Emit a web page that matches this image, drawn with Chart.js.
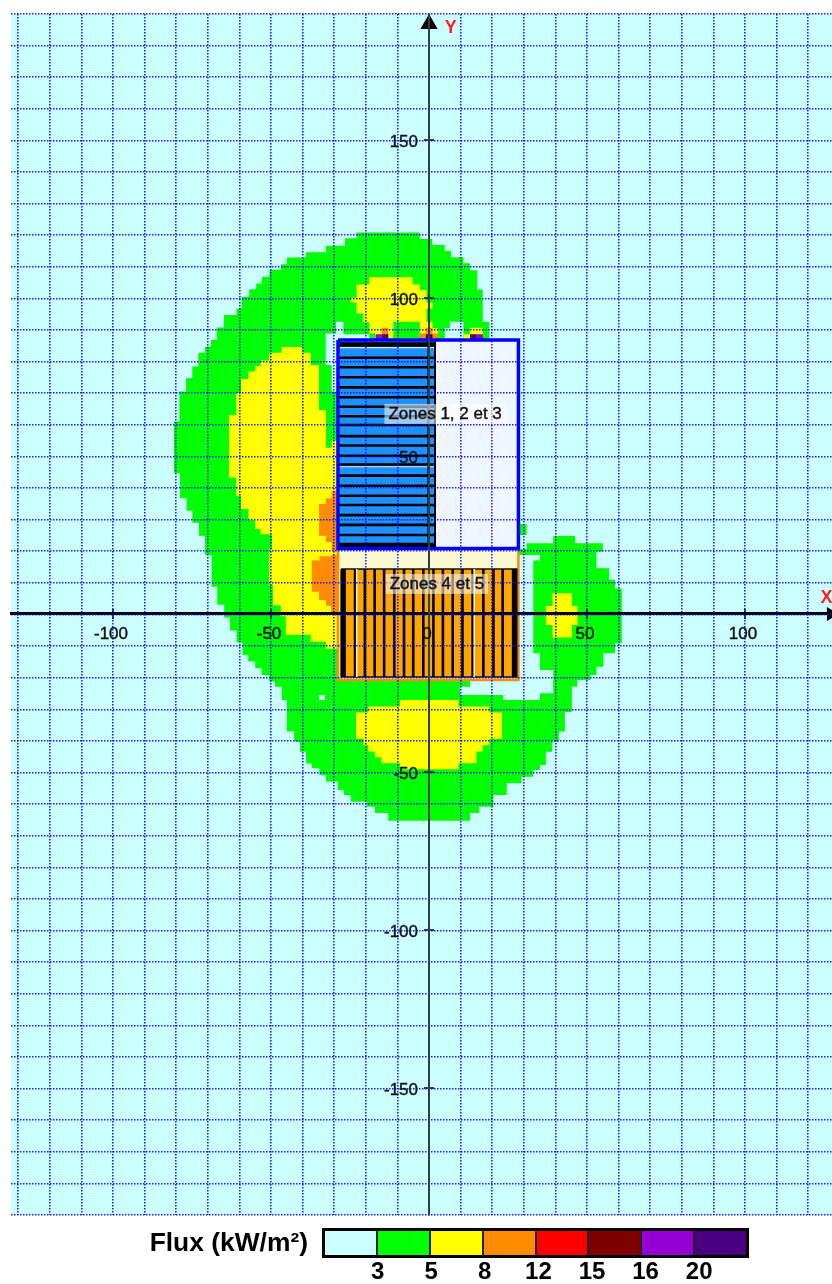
<!DOCTYPE html>
<html>
<head>
<meta charset="utf-8">
<script src="https://cdn.jsdelivr.net/npm/chart.js@4"></script>
<style>
    body { margin: 0; background: #fff; font-family: "Liberation Sans", Arial, sans-serif; }
    #wrap { position: relative; width: 832px; height: 1284px; overflow: hidden; }
    #fluxTitle { position: absolute; left: 60px; width: 248px; top: 1228px; text-align: right; font-size: 26.4px; font-weight: bold; line-height: 28px; white-space: nowrap; }
    #fluxBar { position: absolute; left: 322px; top: 1228px; width: 427px; height: 30px; box-sizing: border-box; border: 3px solid #000; display: flex; }
    #fluxBar div { flex: 1; border-right: 2px solid #222; }
    #fluxBar div:last-child { border-right: none; }
    .fluxTick { position: absolute; top: 1258px; width: 40px; text-align: center; font-size: 24px; font-weight: bold; line-height: 26px; }
</style>
</head>
<body>
<div id="wrap">
    <canvas id="fluxChart" width="832" height="1284"></canvas>
    <div id="fluxTitle">Flux (kW/m²)</div>
    <div id="fluxBar"></div>
</div>
<script>
// Legend
const fluxLevels = ['3', '5', '8', '12', '15', '16', '20'];
const fluxColors = ['#ccffff', '#00ff00', '#ffff00', '#ff8c00', '#ff0000', '#800000', '#9400d3', '#4b0082'];

// Axis limits and ticks (metres)
const xLimits = [-132.28, 127.53];
const yLimits = [-190.19, 189.87];
const xMajorTicks = [-100, -50, 0, 50, 100];
const yMajorTicks = [-150, -100, -50, 50, 100, 150];

// Flux contours as [x, y]
const greenContour = [[-22.9, 120.7], [-26.6, 118.9], [-32.7, 116.5], [-39, 114.5], [-45, 112.8], [-46.8, 110.7], [-50.5, 108.9], [-52.9, 106.7],
    [-54.7, 104.6], [-56.9, 102.8], [-59.3, 100.4], [-60.9, 96.7], [-64.9, 94.6], [-67.2, 90.7], [-69, 86.7], [-70.9, 84.6], [-73, 82.7], [-74.9, 78.3],
    [-76.9, 74.6], [-79, 70.4], [-80.7, 60.9], [-78.8, 44.5], [-76.7, 36.6], [-74.9, 32.7], [-72.8, 28.9], [-70.9, 24.8], [-68.8, 18.7], [-67, 8.6],
    [-64.8, 2.9], [-63, -1.1], [-60.9, -5.2], [-59, -9], [-57.2, -13], [-55, -15], [-53, -17.2], [-50.6, -19.3], [-48.7, -21.4], [-46.6, -23], [-45, -27.2],
    [-42.7, -37.2], [-40.8, -40.4], [-38.9, -43.6], [-37.1, -47.3], [-34.7, -48.8], [-32.6, -51], [-28.9, -53], [-26.9, -55.7], [-24.8, -57.3],
    [-19.7, -59.4], [-17.1, -61], [-12.9, -63], [13, -65.4], [15.9, -63], [20.4, -61], [24.6, -57.3], [29.3, -53.6], [33, -51.5], [35.1, -49.4], [37, -47.8],
    [39, -43.6], [41.1, -40.4], [43, -37.2], [45.2, -31], [46.9, -23], [51, -20.9], [53, -19.3], [55.2, -16.7], [58.9, -12.4], [61, -9.3], [61, 8.1],
    [58.9, 8.1], [58.9, 10.8], [57, 10.8], [57, 14.5], [53, 14.5], [53, 19.7], [55, 19.7], [55, 22.4], [46.2, 22.4], [46.2, 24.7], [39.3, 24.7], [39.3, 22.4],
    [30.9, 22.4], [30.9, 20.6], [28.3, 20.6], [19.1, 20.6], [19.1, 92.5], [17, 92.5], [17, 102.7], [15.3, 102.7], [15.3, 108.8], [13, 108.8], [13, 111],
    [10.9, 111], [10.9, 112.9], [7, 112.9], [7, 114.9], [5, 114.9], [5, 116.8], [1, 116.8], [1, 118.7], [-2.9, 118.7], [-2.9, 120.6]];
const greenPatch = [[28.3, 28.5], [30.9, 28.5], [30.9, 25], [28.3, 25]];

// Pockets below the 3 kW/m² level, inside the green area
const rightPocket = [[25, 18.7], [35.1, 18.7], [35.1, 16.9], [33, 16.9], [33, -12.4], [35.1, -12.4], [35.1, -17.7], [39.3, -17.7], [39.3, -25.1], [35.1, -25.1],
    [35.1, -27.2], [23.5, -27.2], [23.5, -25.6], [9.8, -25.6], [9.8, -23], [13, -23], [13, -21], [25, -21]];
const leftPocket = [[-32.7, 88.8], [-29.4, 88.8], [-29.4, 92.5], [-27.1, 92.5], [-27.1, 88.5], [-18.9, 88.5], [-18.9, 86.7], [-28.8, 86.7], [-28.8, 70.4],
    [-30.8, 70.4], [-30.8, 78.8], [-32.7, 78.8]];
const topPocket = [[5, 86.7], [5, 90.4], [6.6, 90.4], [6.6, 92.5], [10.9, 92.5], [10.9, 86.7]];
const smallPocket = [[-34.8, -25.6], [-32.9, -25.6], [-32.9, -27.2], [-34.8, -27.2]];

const yellowLeft = [[-39.9, 84.5], [-46.6, 84.5], [-46.6, 82.7], [-50.6, 82.7], [-50.6, 80.2], [-53.3, 80.2], [-53.3, 78.5], [-55, 78.5], [-55, 76.7], [-57.1, 76.7],
    [-57.1, 74.4], [-59.5, 74.4], [-59.5, 69.9], [-61, 69.9], [-61, 62.9], [-63.3, 62.9], [-63.3, 43.2], [-61, 43.2], [-61, 37.4], [-59.5, 37.4], [-59.5, 33.2],
    [-57.1, 33.2], [-57.1, 29.7], [-55, 29.7], [-55, 26.9], [-53.3, 26.9], [-53.3, 25.2], [-49.7, 25.2], [-49.7, 20.6], [-50.6, 20.6], [-50.6, 9.2], [-49.4, 9.2],
    [-49.4, 2.8], [-46.9, 2.8], [-46.9, -0.7], [-45.3, -0.7], [-45.3, -6.6], [-37.4, -6.6], [-37.4, -8.8], [-32.6, -8.8], [-32.6, -11], [-28.8, -11], [-28.8, 54.9],
    [-30.8, 54.9], [-30.8, 52.6], [-32.6, 52.6], [-32.6, 64.5], [-34.8, 64.5], [-34.8, 78.7], [-37.4, 78.7], [-37.4, 82.7], [-39.9, 82.7]];
const yellowTop = [[-18.9, 106.6], [-5.2, 106.6], [-5.2, 104.3], [-2.9, 104.3], [-2.9, 102.5], [-0.8, 102.5], [-0.8, 98.6], [1.1, 98.6], [1.1, 96.7], [-0.8, 96.7],
    [-0.8, 92.5], [1.1, 92.5], [1.1, 90.4], [2.9, 90.4], [2.9, 86.7], [-2.9, 86.7], [-2.9, 92.5], [-11.3, 92.5], [-11.3, 86.7], [-17.1, 86.7], [-17.1, 88.8],
    [-18.9, 88.8], [-18.9, 92.3], [-20.8, 92.3], [-20.8, 95.1], [-22.9, 95.1], [-22.9, 98.6], [-24.8, 98.6], [-24.8, 100.1], [-22.9, 100.1], [-22.9, 104.3], [-18.9, 104.3]];
const yellowTopRight = [[13, 90.6], [17, 90.6], [17, 86.7], [10.9, 86.7], [10.9, 88.5], [13, 88.5]];
const yellowLobe = [[39.1, 6.6], [45.2, 6.6], [45.2, 2.5], [47, 2.5], [47, -3.5], [45.2, -3.5], [45.2, -7.4], [39.1, -7.4], [39.1, -3.5], [37, -3.5], [37, 2.5], [39.1, 2.5]];
const yellowBottom = [[-9.2, -27.2], [9.3, -27.2], [9.3, -29.3], [19.1, -29.3], [19.1, -31.2], [23.1, -31.2], [23.1, -39.5], [19.1, -39.5], [19.1, -41.5], [17, -41.5],
    [17, -43.5], [15, -43.5], [15, -47.2], [9.3, -47.2], [9.3, -49.1], [-9.2, -49.1], [-9.2, -47.2], [-15, -47.2], [-15, -45.3], [-17.1, -45.3], [-17.1, -43.5],
    [-19.2, -43.5], [-19.2, -41.5], [-20.8, -41.5], [-20.8, -39.5], [-23.1, -39.5], [-23.1, -31.2], [-19.2, -31.2], [-19.2, -29.3], [-9.2, -29.3]];

const orangeWest = [[-30.8, 39], [-28.8, 39], [-28.8, 20], [-30.8, 20], [-30.8, 22.8], [-32.6, 22.8], [-32.6, 24.8], [-34.8, 24.8], [-34.8, 34.8], [-32.6, 34.8], [-32.6, 36.6], [-30.8, 36.6]];
const orangeSouthWest = [[-31, 18.7], [-28.8, 18.7], [-28.8, 0.6], [-31, 0.6], [-31, 2.6], [-32.6, 2.6], [-32.6, 4.4], [-34.8, 4.4], [-34.8, 7], [-37.1, 7], [-37.1, 16.9], [-34.7, 16.9], [-34.7, 18.3], [-31, 18.3]];
const orangeTopLeft = [[-15, 90.6], [-12.9, 90.6], [-12.9, 86.7], [-15, 86.7]];
const orangeTopMid = [[-1, 90.6], [1.1, 90.6], [1.1, 88.8], [2.9, 88.8], [2.9, 86.7], [-2.9, 86.7], [-2.9, 88.8], [-1, 88.8]];
const purpleTopLeft = [[-16.9, 88.5], [-15, 88.5], [-15, 86.7], [-16.9, 86.7]];
const purpleTopRight = [[15.1, 88.5], [17, 88.5], [17, 86.7], [15.1, 86.7]];
const indigoTopLeft = [[-15, 88.5], [-12.9, 88.5], [-12.9, 86.7], [-15, 86.7]];
const indigoTopMid = [[-1, 88.5], [1.1, 88.5], [1.1, 86.7], [-1, 86.7]];
const indigoTopRight = [[13, 88.5], [15.1, 88.5], [15.1, 86.7], [13, 86.7]];

// Building
const buildingBox = [[-28.8, 86.7], [28.3, 86.7], [28.3, 20.7], [-28.8, 20.7]];
const lowerBox = [[-28.8, 20.7], [28.3, 20.7], [28.3, -20.9], [-28.8, -20.9]];
const blueBlock = [[-28.4, 86.3], [1.9, 86.3], [1.9, 21.1], [-28.4, 21.1]];
const orangeBlock = [[-27.8, 14.2], [27.8, 14.2], [27.8, -19.9], [-27.8, -19.9]];
const blueSlatsY = [81.1, 78.1, 74.9, 71.7, 68.6, 65.6, 62.6, 59.8, 56.3, 53.3, 50.1, 47.3, 43.8, 40.6, 37.4, 34.5, 31.3, 28.2, 25];
const blueThickSlatsY = [85.3, 21.8];
const blueWhiteSlatsY = [84.3, 46.6];
const orangeSlatsX = [-23.4, -20.3, -17.2, -14.2, -11, -7.9, -5, -1.8, 1.4, 4.4, 7.5, 10.6, 13.8, 17.2, 20.4, 23.3];
const orangeThickSlatsX = [-27.1, 27];
const orangeWhiteSlatsX = [-22.9, 14.3];

// Text in the picture
const zoneLabels = ['Zones 1, 2 et 3', 'Zones 4 et 5'];
const zoneLabelX = [5.1, 2.5];
const zoneLabelY = [63.3, 9.5];

const toPoints = pairs => pairs.map(([x, y]) => ({ x, y }));

function area(pairs, color, stepped = false, borderColor = color, borderWidth = 0) {
    const points = toPoints(pairs);
    points.push(points[0]); // close the outline
    return { data: points, showLine: true, fill: 'shape', backgroundColor: color, borderColor, borderWidth, pointRadius: 0, stepped };
}

// Straight slats as one dataset, with gaps between them
function slats(values, vertical, from, to, color, width) {
    const points = values.flatMap(v => vertical
        ? [{ x: v, y: from }, { x: v, y: to }, { x: null, y: null }]
        : [{ x: from, y: v }, { x: to, y: v }, { x: null, y: null }]);
    return { data: points, showLine: true, fill: false, borderColor: color, borderWidth: width, pointRadius: 0, spanGaps: false };
}

function marks(pairs, style, radius, rotation, width = 1.5) {
    return { data: toPoints(pairs), showLine: false, pointStyle: style, pointRadius: radius, pointRotation: rotation,
        pointBorderColor: '#000', pointBackgroundColor: '#000', pointBorderWidth: width, clip: false };
}

// Painted in this order, last one on top
const layers = [
    area(greenContour, fluxColors[1], 'after'),
    area(greenPatch, fluxColors[1]),
    area(rightPocket, fluxColors[0]),
    area(leftPocket, fluxColors[0]),
    area(topPocket, fluxColors[0]),
    area(smallPocket, fluxColors[0]),
    area(yellowLeft, fluxColors[2]),
    area(yellowTop, fluxColors[2]),
    area(yellowTopRight, fluxColors[2]),
    area(yellowLobe, fluxColors[2]),
    area(yellowBottom, fluxColors[2]),
    area(orangeWest, fluxColors[3]),
    area(orangeSouthWest, fluxColors[3]),
    area(orangeTopLeft, fluxColors[3]),
    area(orangeTopMid, fluxColors[3]),
    area(purpleTopLeft, fluxColors[6]),
    area(purpleTopRight, fluxColors[6]),
    area(indigoTopLeft, fluxColors[7]),
    area(indigoTopMid, fluxColors[7]),
    area(indigoTopRight, fluxColors[7]),
    area(lowerBox, '#fafad2', false, '#ff8c00', 2.5),
    area(orangeBlock, '#ffa500', false, '#111', 1.5),
    slats(orangeSlatsX, true, 14.2, -19.9, '#000', 2.6),
    slats(orangeThickSlatsX, true, 14.2, -19.9, '#000', 5),
    slats(orangeWhiteSlatsX, true, 14.2, -19.9, '#f4f4f4', 1.5),
    area(buildingBox, '#f0f6ff'),
    area(blueBlock, '#1e90ff'),
    slats(blueSlatsY, false, -28.4, 1.9, '#000', 2.6),
    slats(blueThickSlatsY, false, -28.4, 1.9, '#000', 4.5),
    slats(blueWhiteSlatsY, false, -28.4, 1.9, '#e4e4e4', 1.2),
    slats([-0.2, 1.9], true, 86.3, 21.1, '#000', 2),
    area(buildingBox, 'rgba(0,0,0,0)', false, '#0000ff', 3.5),
    marks(xMajorTicks.map(x => [x, 0]), 'line', 5, 90),
    marks(yMajorTicks.map(y => [0, y]), 'line', 5, 0),
    marks([[0, 186.7]], 'triangle', 10, 0, 0),
    marks([[127.2, 0]], 'triangle', 8, 90, 0)
];
layers.forEach((layer, i) => { layer.order = layers.length - i; });

const gridDots = 'rgba(10, 10, 255, 0.9)';
const tickFont = { family: '"Liberation Sans"', size: 17 };

// Background of the plot, y labels, zone captions and axis names
const mapPaint = {
    id: 'mapPaint',
    beforeDraw(chart) {
        const { ctx, chartArea: a } = chart;
        ctx.save();
        ctx.fillStyle = fluxColors[0];
        ctx.fillRect(a.left, a.top, a.right - a.left, a.bottom - a.top);
        ctx.restore();
    },
    afterDraw(chart) {
        const { ctx, scales } = chart;
        ctx.save();
        ctx.textBaseline = 'middle';
        ctx.fillStyle = '#111';
        ctx.strokeStyle = '#111';
        ctx.lineWidth = 0.4;

        ctx.font = '17px "Liberation Sans"';
        ctx.textAlign = 'right';
        yMajorTicks.forEach(value => {
            const y = scales.y.getPixelForValue(value) + 2;
            ctx.fillText(String(value), scales.x.getPixelForValue(0) - 11, y);
            ctx.strokeText(String(value), scales.x.getPixelForValue(0) - 11, y);
        });

        ctx.font = '17px "Liberation Sans"';
        ctx.textAlign = 'center';
        zoneLabels.forEach((text, i) => {
            const x = scales.x.getPixelForValue(zoneLabelX[i]);
            const y = scales.y.getPixelForValue(zoneLabelY[i]);
            const w = ctx.measureText(text).width + 8;
            ctx.fillStyle = 'rgba(255, 255, 255, 0.55)';
            ctx.fillRect(x - w / 2, y - 10, w, 20);
            ctx.fillStyle = '#111';
            ctx.fillText(text, x, y);
            ctx.strokeText(text, x, y);
        });

        ctx.font = 'bold 18px "Liberation Sans"';
        ctx.fillStyle = '#ff2020';
        ctx.fillText('Y', scales.x.getPixelForValue(6.9), scales.y.getPixelForValue(185.4));
        ctx.fillText('X', scales.x.getPixelForValue(125.8), scales.y.getPixelForValue(5));
        ctx.restore();
    }
};

// Drop the ticks that fall outside the limits and keep the plot area exact
const keepInside = scale => { scale.ticks = scale.ticks.filter(t => t.value >= scale.min && t.value <= scale.max); };
const noPadding = scale => { scale.paddingLeft = scale.paddingRight = scale.paddingTop = scale.paddingBottom = 0; };

new Chart(document.getElementById('fluxChart').getContext('2d'), {
    type: 'scatter',
    data: { datasets: layers },
    plugins: [mapPaint],
    options: {
        responsive: false,
        animation: false,
        events: [],
        layout: { autoPadding: false, padding: { left: 11, top: 14, right: 0, bottom: 69 } },
        plugins: { legend: { display: false }, tooltip: { enabled: false } },
        scales: {
            x: {
                position: { y: 0 },
                min: xLimits[0],
                max: xLimits[1],
                afterBuildTicks: keepInside,
                afterFit: noPadding,
                grid: { color: ctx => ctx.tick && ctx.tick.value === 0 ? 'transparent' : gridDots, lineWidth: 1.6, drawTicks: false, z: 2 },
                border: { color: '#000', width: 3, dash: [1.5, 1.5], z: 2 },
                ticks: {
                    stepSize: 10,
                    includeBounds: false,
                    autoSkip: false,
                    maxRotation: 0,
                    padding: 10,
                    labelOffset: -2,
                    z: 3,
                    color: '#111',
                    textStrokeColor: '#111',
                    textStrokeWidth: 0.4,
                    font: tickFont,
                    callback: value => xMajorTicks.includes(value) ? String(value) : ''
                }
            },
            y: {
                position: { x: 0 },
                min: yLimits[0],
                max: yLimits[1],
                afterBuildTicks: keepInside,
                afterFit: noPadding,
                grid: { color: gridDots, lineWidth: 1.6, drawTicks: false, z: 2 },
                border: { color: '#2f4040', width: 2, dash: [1.5, 1.5], z: 2 },
                ticks: { stepSize: 10, includeBounds: false, autoSkip: false, display: false }
            }
        }
    }
});

// Flux legend under the map
const fluxBar = document.getElementById('fluxBar');
fluxColors.forEach(color => {
    const cell = document.createElement('div');
    cell.style.background = color;
    fluxBar.appendChild(cell);
});
fluxLevels.forEach((level, i) => {
    const tick = document.createElement('div');
    tick.className = 'fluxTick';
    tick.textContent = level;
    tick.style.left = (322 + (i + 1) * 53.6 - 18) + 'px';
    document.getElementById('wrap').appendChild(tick);
});
</script>
</body>
</html>
